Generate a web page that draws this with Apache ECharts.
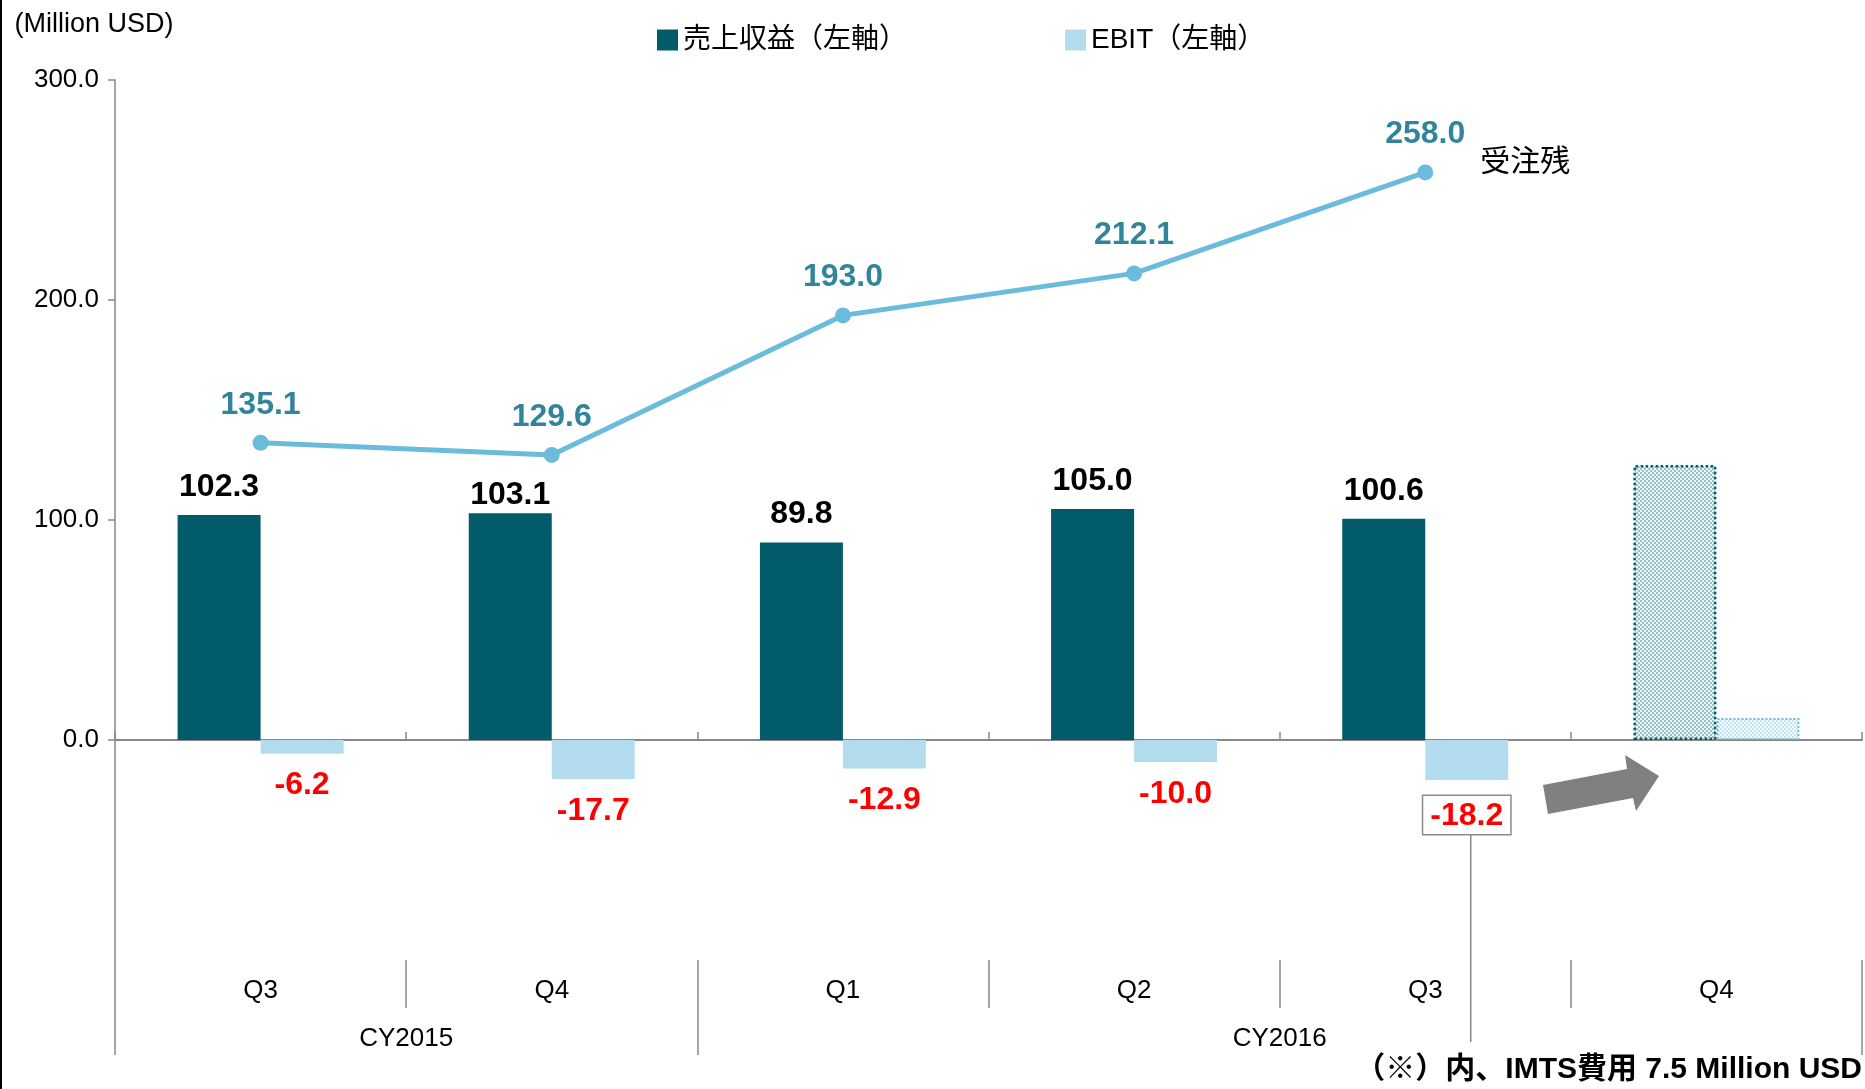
<!DOCTYPE html>
<html>
<head>
<meta charset="utf-8">
<script src="https://cdn.jsdelivr.net/npm/echarts@6/dist/echarts.min.js"></script>
<style>
  html, body { margin: 0; padding: 0; background: #fff; }
  #chart { width: 1865px; height: 1089px; }
</style>
</head>
<body>
<div id="chart"></div>
<script>
const quarters = ['Q3', 'Q4', 'Q1', 'Q2', 'Q3', 'Q4'];
const years = ['CY2015', 'CY2016'];
const quartersPerYear = [2, 4];
const revenue = [102.3, 103.1, 89.8, 105.0, 100.6, 125.0];
const ebit = [-6.2, -17.7, -12.9, -10.0, -18.2, 10.0];
const backlog = [135.1, 129.6, 193.0, 212.1, 258.0, null];
const yTicks = [0, 100, 200, 300];
const forecastIndex = 5;   // Q4 = outlook, drawn dotted
const noteIndex = 4;       // EBIT label with the IMTS note
const legendNames = ['売上収益（左軸）', 'EBIT（左軸）'];
const backlogName = '受注残';
const noteText = '（※）内、IMTS費用 7.5 Million USD';

const FONT = '"Liberation Sans", Arial, "Noto Sans CJK JP", sans-serif';
const TEAL = '#015b6b';
const LIGHT = '#b3dcef';
const LINE = '#6bbcdc';
const GREY = '#888';
const BAR_W = 83;

function dots(bg, fg) {
  const c = document.createElement('canvas');
  c.width = 4; c.height = 4;
  const g = c.getContext('2d');
  g.fillStyle = bg; g.fillRect(0, 0, 4, 4);
  g.fillStyle = fg;
  g.beginPath(); g.arc(1, 1, 0.9, 0, Math.PI * 2); g.fill();
  g.beginPath(); g.arc(3, 3, 0.9, 0, Math.PI * 2); g.fill();
  return { image: c, repeat: 'repeat' };
}

// year label centres / year start indices from the spans
const yearStarts = [];
const yearAt = {};
let acc = 0;
quartersPerYear.forEach((n, i) => {
  yearStarts.push(acc);
  yearAt[acc + n / 2] = years[i];
  acc += n;
});

const fmt = p => Number(p.value).toFixed(1);

const revData = revenue.map((v, i) => {
  if (i === forecastIndex) {
    return { value: v, label: { show: false },
      itemStyle: { color: dots('#edf4f5', '#72a8b1'), borderColor: TEAL, borderType: 'dotted', borderWidth: 2.5 } };
  }
  if (i === 1) return { value: v, label: { distance: 2 } };
  return v;
});
const ebitData = ebit.map((v, i) => {
  if (i === forecastIndex) {
    return { value: v, label: { show: false },
      itemStyle: { color: dots('#f6fbfd', '#acdaef'), borderColor: LINE, borderType: 'dotted', borderWidth: 2 } };
  }
  if (i === noteIndex) {
    return { value: v, label: { backgroundColor: '#fff', borderColor: '#8c8c8c', borderWidth: 1.5, padding: [4, 7, 2, 7] } };
  }
  return v;
});

const chart = echarts.init(document.getElementById('chart'));
const option = {
  animation: false,
  backgroundColor: '#fff',
  grid: { left: 115, right: -3, top: 80, bottom: 129, containLabel: false },
  legend: {
    data: legendNames,
    left: 652, top: 21,
    icon: 'rect', itemWidth: 21, itemHeight: 21, itemGap: 158,
    textStyle: { fontFamily: FONT, fontSize: 28, color: '#000' }
  },
  xAxis: [
    { type: 'category', data: quarters,
      axisLine: { onZero: true, lineStyle: { color: GREY, width: 2 } },
      axisTick: { show: true, inside: true, length: 8, lineStyle: { color: GREY, width: 1.5 } },
      axisLabel: { show: false } },
    { type: 'category', data: quarters, position: 'bottom',
      axisLine: { show: false, onZero: false },
      axisTick: { show: true, length: 48, lineStyle: { color: GREY, width: 1.5 } },
      axisLabel: { margin: 18, fontFamily: FONT, fontSize: 26, color: '#000' } },
    { type: 'category', data: quarters, position: 'bottom',
      axisLine: { show: false, onZero: false },
      axisTick: { show: true, length: 95, interval: idx => yearStarts.includes(idx), lineStyle: { color: GREY, width: 1.5 } },
      axisLabel: { show: false } },
    { type: 'value', min: 0, max: quarters.length, interval: 0.5, position: 'bottom',
      axisLine: { show: false, onZero: false }, axisTick: { show: false }, splitLine: { show: false },
      axisLabel: { margin: 66, fontFamily: FONT, fontSize: 26, color: '#000',
        formatter: v => yearAt[v] || '' } }
  ],
  yAxis: {
    type: 'value', min: -100, max: 300, interval: 100,
    name: '(Million USD)', nameLocation: 'end', nameGap: 42,
    nameTextStyle: { fontFamily: FONT, fontSize: 27, color: '#000', padding: [0, 42, 0, 0] },
    axisLine: { show: true, lineStyle: { color: GREY, width: 1.5 } },
    axisTick: { show: true, length: 7, customValues: yTicks, lineStyle: { color: GREY, width: 1.5 } },
    splitLine: { show: false },
    axisLabel: { margin: 16, fontFamily: FONT, fontSize: 26, color: '#000',
      formatter: v => (v < 0 ? '' : v.toFixed(1)) }
  },
  series: [
    { name: legendNames[0], type: 'bar', data: revData, barWidth: BAR_W, barGap: '0%',
      itemStyle: { color: TEAL },
      label: { show: true, position: 'top', distance: 12, formatter: fmt,
        fontFamily: FONT, fontSize: 32, fontWeight: 'bold', color: '#000' } },
    { name: legendNames[1], type: 'bar', data: ebitData, barWidth: BAR_W, barGap: '0%',
      itemStyle: { color: LIGHT },
      label: { show: true, position: 'bottom', distance: 16, formatter: fmt,
        fontFamily: FONT, fontSize: 32, fontWeight: 'bold', color: '#ff0000' } },
    { name: backlogName, type: 'line', data: backlog,
      symbol: 'circle', symbolSize: 16,
      itemStyle: { color: LINE }, lineStyle: { color: LINE, width: 5 },
      label: { show: true, position: 'top', distance: 14, formatter: fmt,
        fontFamily: FONT, fontSize: 32, fontWeight: 'bold', color: '#31849b' },
      endLabel: { show: true, formatter: backlogName, distance: 55, offset: [0, -10],
        fontFamily: FONT, fontSize: 30, color: '#000' },
      z: 5 }
  ]
};
chart.setOption(option);

// annotation: leader line from the boxed EBIT label down to the footnote
const noteX = chart.convertToPixel({ xAxisIndex: 0 }, noteIndex) + BAR_W / 2 + 4;
const noteY = chart.convertToPixel({ yAxisIndex: 0 }, ebit[noteIndex]) + 53;

chart.setOption({
  graphic: [
    { type: 'rect', left: 0, top: 0, shape: { x: 0, y: 0, width: 2, height: 1089 }, style: { fill: '#000' } },
    { type: 'line', shape: { x1: noteX, y1: noteY, x2: noteX, y2: 1042 }, style: { stroke: GREY, lineWidth: 1.5 } },
    { type: 'polygon',
      shape: { points: [[1543, 785], [1627, 769], [1625, 755], [1659, 776], [1636, 811], [1633, 798], [1548, 814]] },
      style: { fill: '#808080' } },
    { type: 'text', x: 1862, y: 1070,
      style: { text: noteText, align: 'right', verticalAlign: 'middle',
        fontFamily: FONT, fontSize: 30, fontWeight: 'bold', fill: '#000' } }
  ]
});
</script>
</body>
</html>
